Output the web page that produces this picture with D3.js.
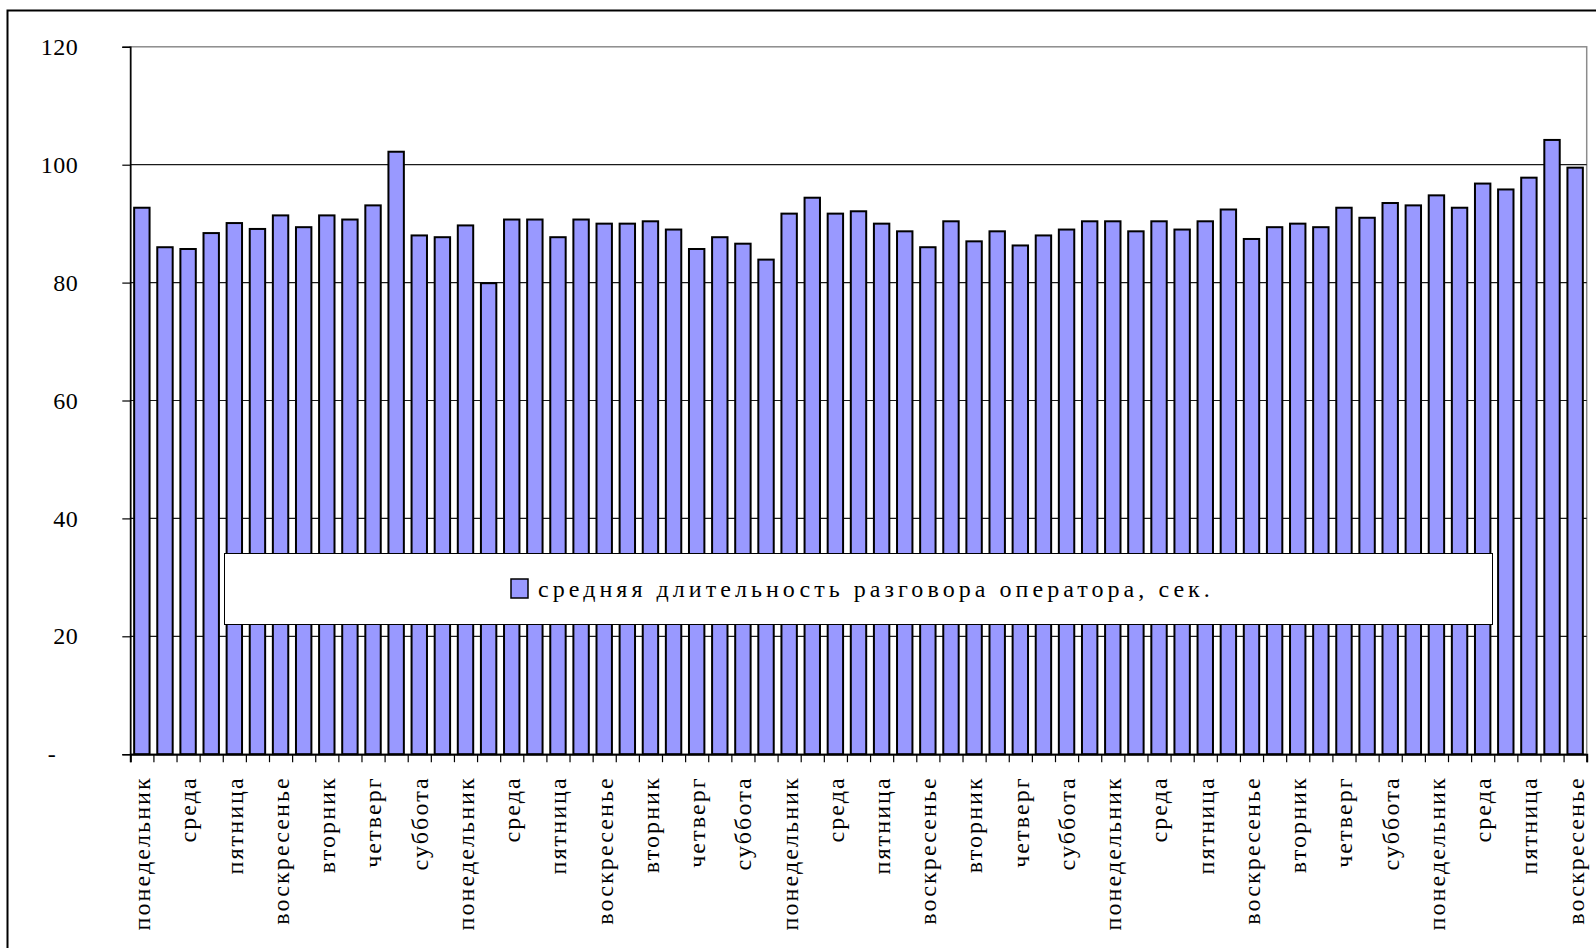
<!DOCTYPE html>
<html>
<head>
<meta charset="utf-8">
<script src="https://cdn.jsdelivr.net/npm/d3@7"></script>
<style>
  html, body { margin: 0; padding: 0; background: #fff; }
  svg { display: block; }
</style>
</head>
<body>
<svg id="chart" width="1596" height="948"></svg>
<script>
// Days of the period (9 weeks, starting on Monday)
const days = [
  "понедельник","вторник","среда","четверг","пятница","суббота","воскресенье",
  "понедельник","вторник","среда","четверг","пятница","суббота","воскресенье",
  "понедельник","вторник","среда","четверг","пятница","суббота","воскресенье",
  "понедельник","вторник","среда","четверг","пятница","суббота","воскресенье",
  "понедельник","вторник","среда","четверг","пятница","суббота","воскресенье",
  "понедельник","вторник","среда","четверг","пятница","суббота","воскресенье",
  "понедельник","вторник","среда","четверг","пятница","суббота","воскресенье",
  "понедельник","вторник","среда","четверг","пятница","суббота","воскресенье",
  "понедельник","вторник","среда","четверг","пятница","суббота","воскресенье"
];

// Average operator talk time, seconds
const avgTalkSec = [
  92.7, 86.0, 85.7, 88.4, 90.1, 89.1, 91.4, 89.4, 91.4, 90.7,
  93.1, 102.2, 88.0, 87.7, 89.7, 79.9, 90.7, 90.7, 87.7, 90.7,
  90.0, 90.0, 90.4, 89.0, 85.7, 87.7, 86.6, 83.9, 91.7, 94.4,
  91.7, 92.1, 90.0, 88.7, 86.0, 90.4, 87.0, 88.7, 86.3, 88.0,
  89.0, 90.4, 90.4, 88.7, 90.4, 89.0, 90.4, 92.4, 87.4, 89.4,
  90.0, 89.4, 92.7, 91.0, 93.5, 93.1, 94.8, 92.7, 96.8, 95.8,
  97.8, 104.2, 99.5
];

const yTicks = [0, 20, 40, 60, 80, 100, 120];
const seriesName = "средняя длительность разговора оператора, сек.";

const FONT = "'Liberation Serif'";

const svg = d3.select("#chart");

// Outer chart frame
svg.append("rect")
  .attr("x", 7.5).attr("y", 10.5)
  .attr("width", 1620).attr("height", 980)
  .attr("fill", "#fff").attr("stroke", "#000").attr("stroke-width", 2);

const plot = { left: 130.3, right: 1586.7, top: 46.8, bottom: 754.2 };

const x = d3.scaleBand()
  .domain(d3.range(avgTalkSec.length))
  .range([plot.left, plot.right])
  .paddingInner(1 / 3)
  .paddingOuter(1 / 6);

// Category boundaries (tick marks sit between days)
const xEdges = d3.scaleLinear()
  .domain([0, avgTalkSec.length])
  .range([plot.left, plot.right]);

const y = d3.scaleLinear()
  .domain([0, 120])
  .range([plot.bottom, plot.top]);

// Plot area border
svg.append("rect")
  .attr("x", plot.left).attr("y", plot.top)
  .attr("width", plot.right - plot.left).attr("height", plot.bottom - plot.top)
  .attr("fill", "none").attr("stroke", "#8c8c8c").attr("stroke-width", 1.5);

// Horizontal gridlines
svg.append("g")
  .selectAll("line")
  .data(yTicks.filter(d => d > 0 && d < 120))
  .join("line")
  .attr("x1", plot.left).attr("x2", plot.right)
  .attr("y1", d => y(d)).attr("y2", d => y(d))
  .attr("stroke", "#1a1a1a").attr("stroke-width", 1.2);

// Bars
svg.append("g")
  .selectAll("rect")
  .data(avgTalkSec)
  .join("rect")
  .attr("x", (d, i) => x(i))
  .attr("y", d => y(d))
  .attr("width", x.bandwidth())
  .attr("height", d => y(0) - y(d))
  .attr("fill", "#9999ff")
  .attr("stroke", "#000")
  .attr("stroke-width", 2);

// Y axis
const yAxis = svg.append("g")
  .attr("transform", `translate(${plot.left},0)`)
  .call(d3.axisLeft(y)
    .tickValues(yTicks)
    .tickSize(8)
    .tickPadding(44)
    .tickFormat(d => d === 0 ? "-" : d));
yAxis.attr("font-family", null).attr("font-size", null);
yAxis.select(".domain").attr("stroke", "#000").attr("stroke-width", 1.5);
yAxis.selectAll(".tick line").attr("stroke", "#000").attr("stroke-width", 1.2);
yAxis.selectAll(".tick text")
  .attr("font-family", "Liberation Serif")
  .style("font-family", FONT)
  .style("font-size", "24px")
  .style("letter-spacing", "0.5px")
  .attr("dx", d => d === 0 ? -22 : 0);

// X axis: tick marks at category boundaries
const xAxis = svg.append("g")
  .attr("transform", `translate(0,${plot.bottom})`)
  .call(d3.axisBottom(xEdges)
    .tickValues(d3.range(avgTalkSec.length + 1))
    .tickSize(8)
    .tickFormat(""));
xAxis.select(".domain").attr("stroke", "#000").attr("stroke-width", 2);
xAxis.selectAll(".tick line").attr("stroke", "#000").attr("stroke-width", 1.2);

// X labels: every second day, rotated
const xLabels = svg.append("g")
  .attr("transform", `translate(0,${plot.bottom})`)
  .call(d3.axisBottom(x)
    .tickValues(d3.range(0, avgTalkSec.length, 2))
    .tickSize(0)
    .tickFormat(i => days[i]));
xLabels.attr("font-family", null).attr("font-size", null);
xLabels.select(".domain").remove();
xLabels.selectAll(".tick text")
  .attr("font-family", "Liberation Serif")
  .style("font-family", FONT)
  .style("font-size", "24px")
  .style("letter-spacing", "2.1px")
  .attr("text-anchor", "end")
  .attr("transform", "rotate(-90)")
  .attr("x", -22)
  .attr("y", 0)
  .attr("dy", "0.35em");

// Legend
const legend = svg.append("g");
legend.append("rect")
  .attr("x", 224.5).attr("y", 553.5)
  .attr("width", 1268).attr("height", 71)
  .attr("fill", "#fff").attr("stroke", "#000").attr("stroke-width", 1);
legend.append("rect")
  .attr("x", 511).attr("y", 579)
  .attr("width", 17).attr("height", 19)
  .attr("fill", "#9999ff").attr("stroke", "#000").attr("stroke-width", 1.5);
legend.append("text")
  .attr("x", 538).attr("y", 597)
  .attr("font-family", "Liberation Serif")
  .style("font-family", FONT)
  .style("font-size", "24px")
  .style("letter-spacing", "4.05px")
  .text(seriesName);
</script>
</body>
</html>
